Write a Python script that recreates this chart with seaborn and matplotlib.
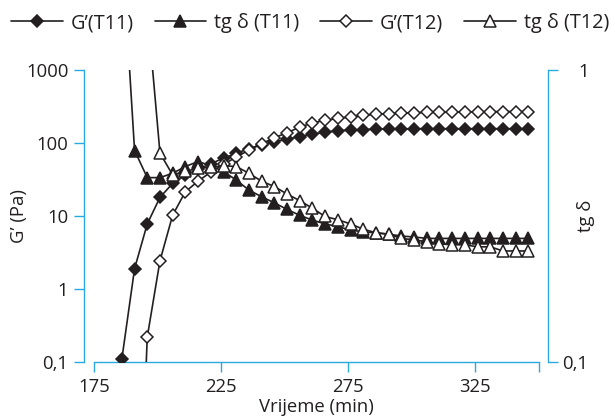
import numpy as np
import pandas as pd
import matplotlib
matplotlib.use("Agg")
import matplotlib.pyplot as plt
import seaborn as sns
from matplotlib.lines import Line2D
from matplotlib.ticker import FixedLocator, FixedFormatter, NullLocator

# Measurement times (min)
time_min = [186, 191, 196, 201, 206, 211, 216, 221, 226, 231, 236,
            241, 246, 251, 256, 261, 266, 271, 276, 281, 286, 291,
            296, 301, 306, 311, 316, 321, 326, 331, 336, 341, 346]

# Storage modulus G' (Pa)
g_t11 = [0.11, 1.9, 7.8, 18, 28, 36, 44, 52, 62, 72, 84,
         94, 103, 113, 122, 132, 141, 147, 151, 153, 155, 156,
         156, 157, 157, 157, 157, 157, 157, 157, 157, 157, 157]
g_t12 = [np.nan, 1e-5, 0.22, 2.44, 10.3, 21.5, 30, 40, 51, 64, 80,
         98, 118, 138, 165, 188, 205, 217, 228, 240, 247, 253,
         258, 260, 262, 263, 265, 267, 268, 269, 270, 270, 270]

# Loss tangent tg delta
tg_t11 = [2.7, 0.53, 0.428, 0.428, 0.443, 0.467, 0.486, 0.47, 0.449, 0.42, 0.388,
          0.368, 0.351, 0.333, 0.318, 0.306, 0.297, 0.291, 0.283, 0.279, 0.277, 0.274,
          0.270, 0.268, 0.265, 0.265, 0.265, 0.265, 0.265, 0.265, 0.265, 0.265, 0.265]
tg_t12 = [np.nan, np.nan, 1.62, 0.519, 0.437, 0.45, 0.46, 0.465, 0.47, 0.467, 0.443,
          0.416, 0.399, 0.376, 0.357, 0.336, 0.315, 0.307, 0.297, 0.285, 0.277, 0.274,
          0.265, 0.262, 0.258, 0.254, 0.252, 0.252, 0.248, 0.248, 0.24, 0.24, 0.24]

x_ticks = [175, 225, 275, 325]
x_tick_labels = ["175", "225", "275", "325"]
g_ticks = [0.1, 1, 10, 100, 1000]
g_tick_labels = ["0,1", "1", "10", "100", "1000"]
tg_ticks = [0.1, 1]
tg_tick_labels = ["0,1", "1"]

legend_labels = ["G\u2019(T11)", "tg \u03b4 (T11)", "G\u2019(T12)", "tg \u03b4 (T12)"]

sns.set_style("white")
plt.rcParams["font.family"] = ["Open Sans", "DejaVu Sans"]

AXIS_BLUE = "#29a9df"
INK = "#231f20"
FS = 13.3
FS_LEG = 14.3

fig = plt.figure(figsize=(6.15, 4.19), dpi=100)
ax = fig.add_axes([84 / 615, 1 - 362 / 419, 464 / 615, 292 / 419])
ax2 = ax.twinx()

df = pd.DataFrame({"t": time_min, "g11": g_t11, "g12": g_t12,
                   "tg11": tg_t11, "tg12": tg_t12})

line_kw = dict(color=INK, linewidth=1.2, markeredgewidth=1.1,
               markeredgecolor=INK, legend=False, clip_on=True)

sns.lineplot(data=df, x="t", y="g11", ax=ax, marker="D", markersize=6.2,
             markerfacecolor=INK, zorder=3, **line_kw)
sns.lineplot(data=df, x="t", y="g12", ax=ax, marker="D", markersize=6.2,
             markerfacecolor="white", zorder=4, **line_kw)
sns.lineplot(data=df, x="t", y="tg11", ax=ax2, marker="^", markersize=8.5,
             markerfacecolor=INK, zorder=3, **line_kw)
sns.lineplot(data=df, x="t", y="tg12", ax=ax2, marker="^", markersize=8.5,
             markerfacecolor="white", zorder=4, **line_kw)

# Scales and limits
ax.set_yscale("log")
ax2.set_yscale("log")
ax.set_xlim(171.1, 353.7)
ax.set_ylim(0.1, 1000)
ax2.set_ylim(0.1, 1)

# Ticks
ax.xaxis.set_major_locator(FixedLocator(x_ticks))
ax.xaxis.set_major_formatter(FixedFormatter(x_tick_labels))
ax.xaxis.set_minor_locator(FixedLocator([350]))
ax.yaxis.set_major_locator(FixedLocator(g_ticks))
ax.yaxis.set_major_formatter(FixedFormatter(g_tick_labels))
ax.yaxis.set_minor_locator(NullLocator())
ax2.yaxis.set_major_locator(FixedLocator(tg_ticks))
ax2.yaxis.set_major_formatter(FixedFormatter(tg_tick_labels))
ax2.yaxis.set_minor_locator(NullLocator())

tick_kw = dict(direction="out", length=7.2, width=1.0, color=AXIS_BLUE,
               labelcolor=INK, labelsize=FS)
ax.tick_params(axis="x", which="major", pad=4, bottom=True, **tick_kw)
ax.tick_params(axis="x", which="minor", bottom=True, length=7.2, width=1.0,
               color=AXIS_BLUE)
ax.tick_params(axis="y", which="major", pad=4, left=True, **tick_kw)
ax2.tick_params(axis="y", which="major", pad=22, right=True, **tick_kw)
for lbl in ax2.get_yticklabels():
    lbl.set_horizontalalignment("right")

# Spines
for a in (ax, ax2):
    for s in a.spines.values():
        s.set_visible(False)
        s.set_color(AXIS_BLUE)
        s.set_linewidth(1.0)
ax.spines["left"].set_visible(True)
ax.spines["bottom"].set_visible(True)
ax.spines["bottom"].set_bounds(175, 350)
ax2.spines["right"].set_visible(True)
ax.grid(False)
ax2.grid(False)

# Axis labels
ax.set_xlabel("Vrijeme (min)", fontsize=FS, color=INK)
ax.xaxis.set_label_coords(0.5, -0.125)
ax.set_ylabel("G\u2019 (Pa)", fontsize=FS, color=INK)
ax.yaxis.set_label_coords(-0.12, 0.5)
ax2.set_ylabel("tg \u03b4", fontsize=FS, color=INK)
ax2.yaxis.set_label_coords(1.062, 0.5)

# Legend across the top
handles = [
    Line2D([], [], color=INK, lw=1.2, marker="D", ms=6.2, mfc=INK, mec=INK, mew=1.1),
    Line2D([], [], color=INK, lw=1.2, marker="^", ms=8.5, mfc=INK, mec=INK, mew=1.1),
    Line2D([], [], color=INK, lw=1.2, marker="D", ms=6.2, mfc="white", mec=INK, mew=1.1),
    Line2D([], [], color=INK, lw=1.2, marker="^", ms=8.5, mfc="white", mec=INK, mew=1.1),
]
leg = fig.legend(handles, legend_labels, ncol=4, loc="center left",
                 bbox_to_anchor=(11 / 615, 1 - 23 / 419), frameon=False,
                 fontsize=FS_LEG, handlelength=2.6, handletextpad=0.4,
                 columnspacing=1.05, borderpad=0, borderaxespad=0)
for t in leg.get_texts():
    t.set_color(INK)

fig.savefig("out.png", dpi=100)
